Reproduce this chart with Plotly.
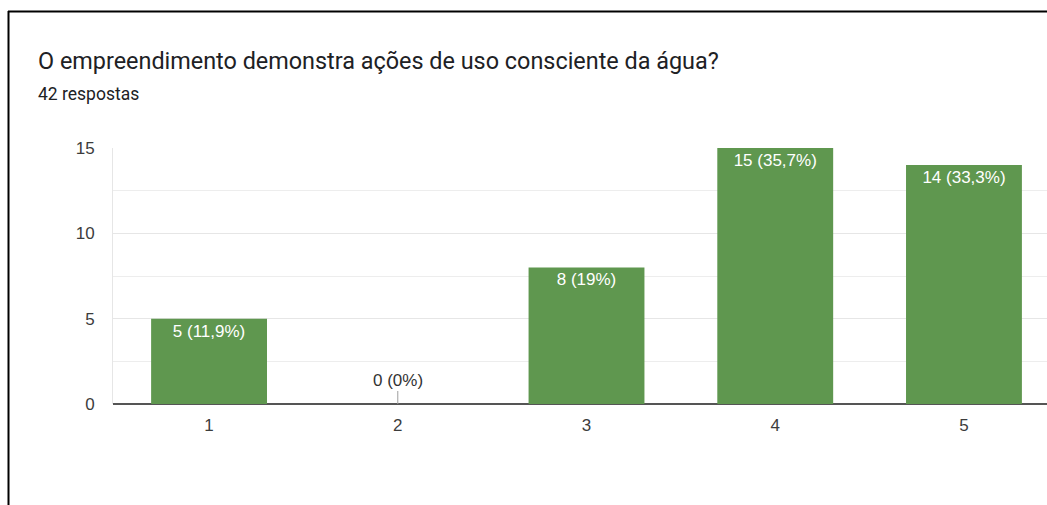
import plotly.graph_objects as go

categories = ["1", "2", "3", "4", "5"]
values = [5, 0, 8, 15, 14]
title_text = "O empreendimento demonstra ações de uso consciente da água?"
subtitle_text = "42 respostas"
y_ticks = [0, 5, 10, 15]

total = sum(values)
labels = []
for v in values:
    p = v / total * 100
    s = f"{p:.1f}".rstrip("0").rstrip(".").replace(".", ",")
    labels.append(f"{v} ({s}%)")

W, H = 1047, 505
L, R, T, B = 113, 1047, 148, 404
pw, ph = R - L, B - T

def px(x):
    return (x - L) / pw

def py(y):
    return (B - y) / ph

bar_text = [lab if v > 0 else "" for v, lab in zip(values, labels)]
FONT = "Liberation Sans, Arial"

fig = go.Figure()
fig.add_trace(go.Bar(
    x=categories, y=values,
    marker=dict(color="#5f974f", line=dict(width=0)),
    text=bar_text, textposition="inside", insidetextanchor="end",
    textangle=0, textfont=dict(color="white", size=17, family=FONT),
    constraintext="none", hoverinfo="skip",
))

annotations = [
    dict(text=title_text, x=px(36), y=py(61), xref="paper", yref="paper",
         xanchor="left", yanchor="middle", showarrow=False,
         font=dict(family="Roboto", size=23.4, color="#202124")),
    dict(text=subtitle_text, x=px(36), y=py(94), xref="paper", yref="paper",
         xanchor="left", yanchor="middle", showarrow=False,
         font=dict(family="Roboto", size=17.5, color="#202124")),
]
for i, (c, v, lab) in enumerate(zip(categories, values, labels)):
    if v == 0:
        annotations.append(dict(
            text=lab, x=i, y=v, xref="x", yref="y", showarrow=True,
            arrowhead=0, arrowwidth=1, arrowcolor="#9e9e9e", ax=0, ay=-24,
            font=dict(family=FONT, size=17, color="#333333"),
        ))

shapes = [
    dict(type="line", xref="paper", yref="paper", x0=px(8), x1=px(1070),
         y0=py(11.5), y1=py(11.5), line=dict(color="black", width=2)),
    dict(type="line", xref="paper", yref="paper", x0=px(8.5), x1=px(8.5),
         y0=py(11), y1=py(530), line=dict(color="black", width=2)),
]

fig.update_layout(
    width=W, height=H,
    margin=dict(l=L, r=W - R, t=T, b=H - B, pad=0),
    paper_bgcolor="white", plot_bgcolor="white",
    showlegend=False, bargap=0.386,
    annotations=annotations, shapes=shapes,
    font=dict(family=FONT, size=17, color="#333333"),
)
fig.update_xaxes(
    type="category", range=[-0.509, 4.44], showgrid=False,
    ticks="outside", ticklen=6, tickcolor="rgba(0,0,0,0)",
    tickfont=dict(size=17, color="#3c3c3c"),
    showline=False, zeroline=False, fixedrange=True,
)
fig.update_yaxes(
    range=[0, 15], tickvals=y_ticks, showgrid=True, gridcolor="#e6e6e6", gridwidth=1,
    minor=dict(dtick=2.5, showgrid=True, gridcolor="#ededed", gridwidth=1),
    ticks="outside", ticklen=14, tickcolor="rgba(0,0,0,0)",
    tickfont=dict(size=17, color="#3c3c3c"),
    showline=True, linecolor="#e6e6e6", linewidth=1,
    zeroline=True, zerolinecolor="#555555", zerolinewidth=2, fixedrange=True,
)

fig.write_html(
    "out.html",
    config={"displayModeBar": False},
    post_script="document.body.style.margin='0';document.body.style.overflow='hidden';",
)
